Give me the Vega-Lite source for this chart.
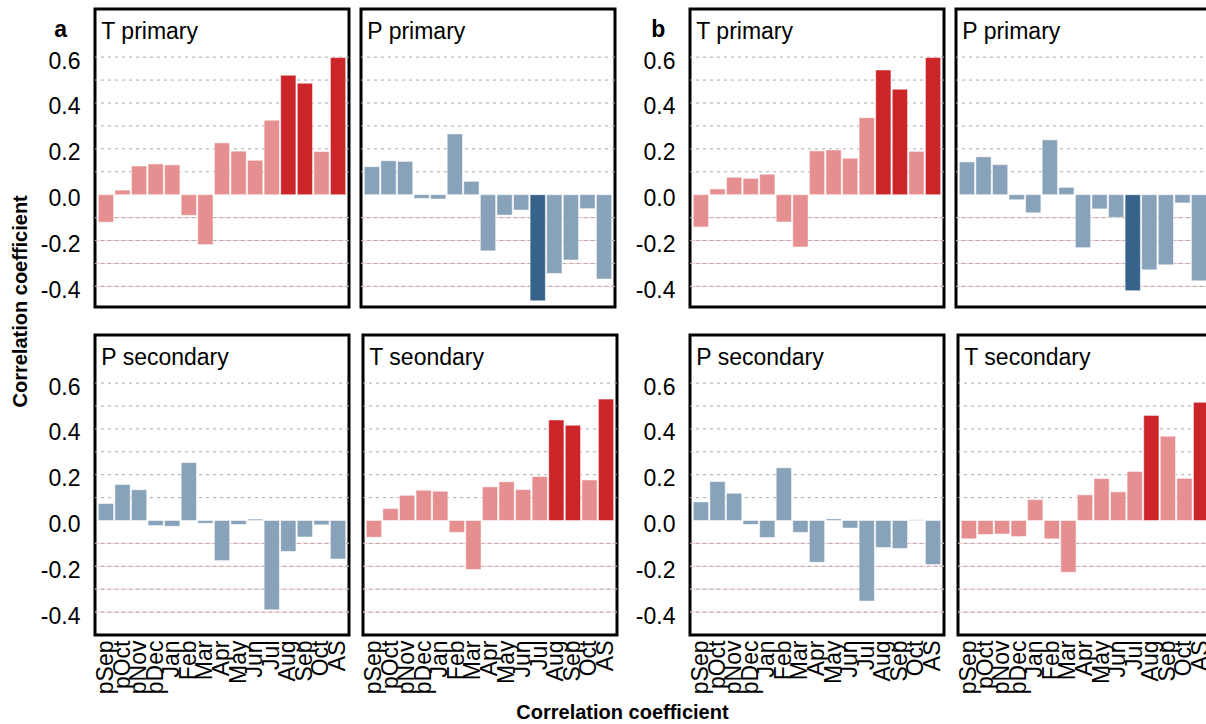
{
  "$schema": "https://vega.github.io/schema/vega-lite/v6.json",
  "autosize": {"type": "pad"},
  "padding": {"left": 10, "top": 7, "right": 0, "bottom": 0},
  "background": "#ffffff",
  "config": {
    "font": "Liberation Sans",
    "view": {"stroke": "#000000", "strokeWidth": 3},
    "axis": {"domain": false, "ticks": false, "grid": false, "labelColor": "#000000", "labelFont": "Liberation Sans", "title": null},
    "axisY": {"labelFontSize": 23, "labelPadding": 15, "labelOffset": 4},
    "axisX": {"labelAngle": 270, "labelFontSize": 23, "labelPadding": 5, "labelOverlap": false, "labelBound": false, "labelFlush": false},
    "text": {"font": "Liberation Sans", "color": "#000000"}
  },
  "datasets": {
    "grid": [
      {"v": -0.4}, {"v": -0.3}, {"v": -0.2}, {"v": -0.1},
      {"v": 0.1}, {"v": 0.2}, {"v": 0.3}, {"v": 0.4}, {"v": 0.5}, {"v": 0.6}
    ],
    "corr": [
      {"panel": "a-Tp", "month": "pSep", "r": -0.12, "sig": false},
      {"panel": "a-Tp", "month": "pOct", "r": 0.02, "sig": false},
      {"panel": "a-Tp", "month": "pNov", "r": 0.125, "sig": false},
      {"panel": "a-Tp", "month": "pDec", "r": 0.134, "sig": false},
      {"panel": "a-Tp", "month": "Jan", "r": 0.13, "sig": false},
      {"panel": "a-Tp", "month": "Feb", "r": -0.09, "sig": false},
      {"panel": "a-Tp", "month": "Mar", "r": -0.218, "sig": false},
      {"panel": "a-Tp", "month": "Apr", "r": 0.226, "sig": false},
      {"panel": "a-Tp", "month": "May", "r": 0.19, "sig": false},
      {"panel": "a-Tp", "month": "Jun", "r": 0.15, "sig": false},
      {"panel": "a-Tp", "month": "Jul", "r": 0.325, "sig": false},
      {"panel": "a-Tp", "month": "Aug", "r": 0.521, "sig": true},
      {"panel": "a-Tp", "month": "Sep", "r": 0.486, "sig": true},
      {"panel": "a-Tp", "month": "Oct", "r": 0.188, "sig": false},
      {"panel": "a-Tp", "month": "AS", "r": 0.598, "sig": true},

      {"panel": "a-Pp", "month": "pSep", "r": 0.122, "sig": false},
      {"panel": "a-Pp", "month": "pOct", "r": 0.148, "sig": false},
      {"panel": "a-Pp", "month": "pNov", "r": 0.145, "sig": false},
      {"panel": "a-Pp", "month": "pDec", "r": -0.016, "sig": false},
      {"panel": "a-Pp", "month": "Jan", "r": -0.019, "sig": false},
      {"panel": "a-Pp", "month": "Feb", "r": 0.265, "sig": false},
      {"panel": "a-Pp", "month": "Mar", "r": 0.058, "sig": false},
      {"panel": "a-Pp", "month": "Apr", "r": -0.245, "sig": false},
      {"panel": "a-Pp", "month": "May", "r": -0.089, "sig": false},
      {"panel": "a-Pp", "month": "Jun", "r": -0.067, "sig": false},
      {"panel": "a-Pp", "month": "Jul", "r": -0.463, "sig": true},
      {"panel": "a-Pp", "month": "Aug", "r": -0.344, "sig": false},
      {"panel": "a-Pp", "month": "Sep", "r": -0.285, "sig": false},
      {"panel": "a-Pp", "month": "Oct", "r": -0.061, "sig": false},
      {"panel": "a-Pp", "month": "AS", "r": -0.368, "sig": false},

      {"panel": "b-Tp", "month": "pSep", "r": -0.141, "sig": false},
      {"panel": "b-Tp", "month": "pOct", "r": 0.025, "sig": false},
      {"panel": "b-Tp", "month": "pNov", "r": 0.076, "sig": false},
      {"panel": "b-Tp", "month": "pDec", "r": 0.071, "sig": false},
      {"panel": "b-Tp", "month": "Jan", "r": 0.089, "sig": false},
      {"panel": "b-Tp", "month": "Feb", "r": -0.119, "sig": false},
      {"panel": "b-Tp", "month": "Mar", "r": -0.228, "sig": false},
      {"panel": "b-Tp", "month": "Apr", "r": 0.191, "sig": false},
      {"panel": "b-Tp", "month": "May", "r": 0.195, "sig": false},
      {"panel": "b-Tp", "month": "Jun", "r": 0.159, "sig": false},
      {"panel": "b-Tp", "month": "Jul", "r": 0.336, "sig": false},
      {"panel": "b-Tp", "month": "Aug", "r": 0.544, "sig": true},
      {"panel": "b-Tp", "month": "Sep", "r": 0.46, "sig": true},
      {"panel": "b-Tp", "month": "Oct", "r": 0.189, "sig": false},
      {"panel": "b-Tp", "month": "AS", "r": 0.598, "sig": true},

      {"panel": "b-Pp", "month": "pSep", "r": 0.143, "sig": false},
      {"panel": "b-Pp", "month": "pOct", "r": 0.165, "sig": false},
      {"panel": "b-Pp", "month": "pNov", "r": 0.131, "sig": false},
      {"panel": "b-Pp", "month": "pDec", "r": -0.022, "sig": false},
      {"panel": "b-Pp", "month": "Jan", "r": -0.079, "sig": false},
      {"panel": "b-Pp", "month": "Feb", "r": 0.239, "sig": false},
      {"panel": "b-Pp", "month": "Mar", "r": 0.032, "sig": false},
      {"panel": "b-Pp", "month": "Apr", "r": -0.231, "sig": false},
      {"panel": "b-Pp", "month": "May", "r": -0.062, "sig": false},
      {"panel": "b-Pp", "month": "Jun", "r": -0.099, "sig": false},
      {"panel": "b-Pp", "month": "Jul", "r": -0.419, "sig": true},
      {"panel": "b-Pp", "month": "Aug", "r": -0.328, "sig": false},
      {"panel": "b-Pp", "month": "Sep", "r": -0.306, "sig": false},
      {"panel": "b-Pp", "month": "Oct", "r": -0.036, "sig": false},
      {"panel": "b-Pp", "month": "AS", "r": -0.376, "sig": false},

      {"panel": "a-Ps", "month": "pSep", "r": 0.074, "sig": false},
      {"panel": "a-Ps", "month": "pOct", "r": 0.157, "sig": false},
      {"panel": "a-Ps", "month": "pNov", "r": 0.134, "sig": false},
      {"panel": "a-Ps", "month": "pDec", "r": -0.022, "sig": false},
      {"panel": "a-Ps", "month": "Jan", "r": -0.025, "sig": false},
      {"panel": "a-Ps", "month": "Feb", "r": 0.253, "sig": false},
      {"panel": "a-Ps", "month": "Mar", "r": -0.012, "sig": false},
      {"panel": "a-Ps", "month": "Apr", "r": -0.175, "sig": false},
      {"panel": "a-Ps", "month": "May", "r": -0.017, "sig": false},
      {"panel": "a-Ps", "month": "Jun", "r": 0.006, "sig": false},
      {"panel": "a-Ps", "month": "Jul", "r": -0.39, "sig": false},
      {"panel": "a-Ps", "month": "Aug", "r": -0.135, "sig": false},
      {"panel": "a-Ps", "month": "Sep", "r": -0.072, "sig": false},
      {"panel": "a-Ps", "month": "Oct", "r": -0.019, "sig": false},
      {"panel": "a-Ps", "month": "AS", "r": -0.168, "sig": false},

      {"panel": "a-Ts", "month": "pSep", "r": -0.073, "sig": false},
      {"panel": "a-Ts", "month": "pOct", "r": 0.052, "sig": false},
      {"panel": "a-Ts", "month": "pNov", "r": 0.11, "sig": false},
      {"panel": "a-Ts", "month": "pDec", "r": 0.132, "sig": false},
      {"panel": "a-Ts", "month": "Jan", "r": 0.128, "sig": false},
      {"panel": "a-Ts", "month": "Feb", "r": -0.052, "sig": false},
      {"panel": "a-Ts", "month": "Mar", "r": -0.214, "sig": false},
      {"panel": "a-Ts", "month": "Apr", "r": 0.147, "sig": false},
      {"panel": "a-Ts", "month": "May", "r": 0.169, "sig": false},
      {"panel": "a-Ts", "month": "Jun", "r": 0.135, "sig": false},
      {"panel": "a-Ts", "month": "Jul", "r": 0.192, "sig": false},
      {"panel": "a-Ts", "month": "Aug", "r": 0.439, "sig": true},
      {"panel": "a-Ts", "month": "Sep", "r": 0.416, "sig": true},
      {"panel": "a-Ts", "month": "Oct", "r": 0.177, "sig": false},
      {"panel": "a-Ts", "month": "AS", "r": 0.53, "sig": true},

      {"panel": "b-Ps", "month": "pSep", "r": 0.081, "sig": false},
      {"panel": "b-Ps", "month": "pOct", "r": 0.17, "sig": false},
      {"panel": "b-Ps", "month": "pNov", "r": 0.119, "sig": false},
      {"panel": "b-Ps", "month": "pDec", "r": -0.017, "sig": false},
      {"panel": "b-Ps", "month": "Jan", "r": -0.074, "sig": false},
      {"panel": "b-Ps", "month": "Feb", "r": 0.23, "sig": false},
      {"panel": "b-Ps", "month": "Mar", "r": -0.052, "sig": false},
      {"panel": "b-Ps", "month": "Apr", "r": -0.182, "sig": false},
      {"panel": "b-Ps", "month": "May", "r": 0.007, "sig": false},
      {"panel": "b-Ps", "month": "Jun", "r": -0.033, "sig": false},
      {"panel": "b-Ps", "month": "Jul", "r": -0.352, "sig": false},
      {"panel": "b-Ps", "month": "Aug", "r": -0.118, "sig": false},
      {"panel": "b-Ps", "month": "Sep", "r": -0.122, "sig": false},
      {"panel": "b-Ps", "month": "Oct", "r": 0.003, "sig": false},
      {"panel": "b-Ps", "month": "AS", "r": -0.192, "sig": false},

      {"panel": "b-Ts", "month": "pSep", "r": -0.08, "sig": false},
      {"panel": "b-Ts", "month": "pOct", "r": -0.061, "sig": false},
      {"panel": "b-Ts", "month": "pNov", "r": -0.059, "sig": false},
      {"panel": "b-Ts", "month": "pDec", "r": -0.07, "sig": false},
      {"panel": "b-Ts", "month": "Jan", "r": 0.091, "sig": false},
      {"panel": "b-Ts", "month": "Feb", "r": -0.08, "sig": false},
      {"panel": "b-Ts", "month": "Mar", "r": -0.226, "sig": false},
      {"panel": "b-Ts", "month": "Apr", "r": 0.112, "sig": false},
      {"panel": "b-Ts", "month": "May", "r": 0.183, "sig": false},
      {"panel": "b-Ts", "month": "Jun", "r": 0.125, "sig": false},
      {"panel": "b-Ts", "month": "Jul", "r": 0.214, "sig": false},
      {"panel": "b-Ts", "month": "Aug", "r": 0.459, "sig": true},
      {"panel": "b-Ts", "month": "Sep", "r": 0.368, "sig": false},
      {"panel": "b-Ts", "month": "Oct", "r": 0.184, "sig": false},
      {"panel": "b-Ts", "month": "AS", "r": 0.516, "sig": true}
    ]
  },
  "title": {"text": "Correlation coefficient", "orient": "bottom", "anchor": "middle", "fontSize": 20, "fontWeight": "bold", "color": "#000000", "offset": 8, "dx": 10},
  "spacing": 13,
  "hconcat": [
    {
      "title": {"text": "Correlation coefficient", "orient": "left", "anchor": "middle", "fontSize": 20, "fontWeight": "bold", "color": "#000000", "offset": 8, "dx": 50},
      "spacing": 24,
      "vconcat": [
        {
          "spacing": 8,
          "hconcat": [
            {
              "width": 254, "height": 298,
              "layer": [
                {"data": {"name": "grid"}, "transform": [{"filter": "datum.v < 0"}], "mark": {"type": "rule", "color": "#f6caca", "strokeWidth": 1},
                 "encoding": {"y": {"field": "v", "type": "quantitative", "scale": {"domain": [-0.49, 0.81], "nice": false}, "axis": {"values": [-0.4, -0.2, 0, 0.2, 0.4, 0.6], "labelExpr": "datum.value < 0 ? '-' + format(-datum.value, '.1f') : format(datum.value, '.1f')"}}}},
                {"data": {"name": "grid"}, "mark": {"type": "rule", "color": "#a9a9a9", "strokeWidth": 1, "strokeDash": [3, 4]},
                 "encoding": {"y": {"field": "v", "type": "quantitative", "scale": {"domain": [-0.49, 0.81], "nice": false}, "axis": {"values": [-0.4, -0.2, 0, 0.2, 0.4, 0.6], "labelExpr": "datum.value < 0 ? '-' + format(-datum.value, '.1f') : format(datum.value, '.1f')"}}}},
                {"data": {"name": "corr"}, "transform": [{"filter": "datum.panel == 'a-Tp'"}], "mark": {"type": "bar", "stroke": "#ffffff", "strokeWidth": 1, "strokeOpacity": 0.5},
                 "encoding": {
                   "x": {"field": "month", "type": "nominal", "scale": {"domain": ["pSep","pOct","pNov","pDec","Jan","Feb","Mar","Apr","May","Jun","Jul","Aug","Sep","Oct","AS"], "paddingInner": 0.08, "paddingOuter": 0.2}, "axis": null},
                   "y": {"field": "r", "type": "quantitative", "scale": {"domain": [-0.49, 0.81], "nice": false}, "axis": {"values": [-0.4, -0.2, 0, 0.2, 0.4, 0.6], "labelExpr": "datum.value < 0 ? '-' + format(-datum.value, '.1f') : format(datum.value, '.1f')"}},
                   "fill": {"condition": {"test": "datum.sig", "value": "#cc2529"}, "value": "#e68f91"}}},
                {"data": {"name": "corr"}, "transform": [{"filter": "datum.panel == 'a-Tp' && datum.month == 'pSep'"}], "mark": {"type": "text", "align": "left", "baseline": "alphabetic", "fontSize": 23, "dx": 3},
                 "encoding": {"x": {"field": "month", "type": "nominal", "bandPosition": 0, "scale": {"domain": ["pSep","pOct","pNov","pDec","Jan","Feb","Mar","Apr","May","Jun","Jul","Aug","Sep","Oct","AS"], "paddingInner": 0.08, "paddingOuter": 0.2}, "axis": null}, "y": {"datum": 0.678, "type": "quantitative", "scale": {"domain": [-0.49, 0.81], "nice": false}, "axis": {"values": [-0.4, -0.2, 0, 0.2, 0.4, 0.6], "labelExpr": "datum.value < 0 ? '-' + format(-datum.value, '.1f') : format(datum.value, '.1f')"}}, "text": {"value": "T primary"}}},
                {"data": {"name": "corr"}, "transform": [{"filter": "datum.panel == 'a-Tp' && datum.month == 'pSep'"}], "mark": {"type": "text", "align": "left", "baseline": "alphabetic", "fontSize": 23, "fontWeight": "bold", "dx": -44},
                 "encoding": {"x": {"field": "month", "type": "nominal", "bandPosition": 0, "scale": {"domain": ["pSep","pOct","pNov","pDec","Jan","Feb","Mar","Apr","May","Jun","Jul","Aug","Sep","Oct","AS"], "paddingInner": 0.08, "paddingOuter": 0.2}, "axis": null}, "y": {"datum": 0.69, "type": "quantitative", "scale": {"domain": [-0.49, 0.81], "nice": false}, "axis": {"values": [-0.4, -0.2, 0, 0.2, 0.4, 0.6], "labelExpr": "datum.value < 0 ? '-' + format(-datum.value, '.1f') : format(datum.value, '.1f')"}}, "text": {"value": "a"}}}
              ]
            },
            {
              "width": 254, "height": 298,
              "layer": [
                {"data": {"name": "grid"}, "transform": [{"filter": "datum.v < 0"}], "mark": {"type": "rule", "color": "#f6caca", "strokeWidth": 1}, "encoding": {"y": {"field": "v", "type": "quantitative", "scale": {"domain": [-0.49, 0.81], "nice": false}, "axis": null}}},
                {"data": {"name": "grid"}, "mark": {"type": "rule", "color": "#a9a9a9", "strokeWidth": 1, "strokeDash": [3, 4]}, "encoding": {"y": {"field": "v", "type": "quantitative", "scale": {"domain": [-0.49, 0.81], "nice": false}, "axis": null}}},
                {"data": {"name": "corr"}, "transform": [{"filter": "datum.panel == 'a-Pp'"}], "mark": {"type": "bar", "stroke": "#ffffff", "strokeWidth": 1, "strokeOpacity": 0.5},
                 "encoding": {
                   "x": {"field": "month", "type": "nominal", "scale": {"domain": ["pSep","pOct","pNov","pDec","Jan","Feb","Mar","Apr","May","Jun","Jul","Aug","Sep","Oct","AS"], "paddingInner": 0.08, "paddingOuter": 0.2}, "axis": null},
                   "y": {"field": "r", "type": "quantitative", "scale": {"domain": [-0.49, 0.81], "nice": false}, "axis": null},
                   "fill": {"condition": {"test": "datum.sig", "value": "#37638a"}, "value": "#87a2b9"}}},
                {"data": {"name": "corr"}, "transform": [{"filter": "datum.panel == 'a-Pp' && datum.month == 'pSep'"}], "mark": {"type": "text", "align": "left", "baseline": "alphabetic", "fontSize": 23, "dx": 3},
                 "encoding": {"x": {"field": "month", "type": "nominal", "bandPosition": 0, "scale": {"domain": ["pSep","pOct","pNov","pDec","Jan","Feb","Mar","Apr","May","Jun","Jul","Aug","Sep","Oct","AS"], "paddingInner": 0.08, "paddingOuter": 0.2}, "axis": null}, "y": {"datum": 0.678, "type": "quantitative", "scale": {"domain": [-0.49, 0.81], "nice": false}, "axis": null}, "text": {"value": "P primary"}}}
              ]
            }
          ]
        },
        {
          "spacing": 8,
          "hconcat": [
            {
              "width": 254, "height": 300,
              "layer": [
                {"data": {"name": "grid"}, "transform": [{"filter": "datum.v < 0"}], "mark": {"type": "rule", "color": "#f6caca", "strokeWidth": 1},
                 "encoding": {"y": {"field": "v", "type": "quantitative", "scale": {"domain": [-0.5, 0.81], "nice": false}, "axis": {"values": [-0.4, -0.2, 0, 0.2, 0.4, 0.6], "labelExpr": "datum.value < 0 ? '-' + format(-datum.value, '.1f') : format(datum.value, '.1f')"}}}},
                {"data": {"name": "grid"}, "mark": {"type": "rule", "color": "#a9a9a9", "strokeWidth": 1, "strokeDash": [3, 4]},
                 "encoding": {"y": {"field": "v", "type": "quantitative", "scale": {"domain": [-0.5, 0.81], "nice": false}, "axis": {"values": [-0.4, -0.2, 0, 0.2, 0.4, 0.6], "labelExpr": "datum.value < 0 ? '-' + format(-datum.value, '.1f') : format(datum.value, '.1f')"}}}},
                {"data": {"name": "corr"}, "transform": [{"filter": "datum.panel == 'a-Ps'"}], "mark": {"type": "bar", "stroke": "#ffffff", "strokeWidth": 1, "strokeOpacity": 0.5},
                 "encoding": {
                   "x": {"field": "month", "type": "nominal", "scale": {"domain": ["pSep","pOct","pNov","pDec","Jan","Feb","Mar","Apr","May","Jun","Jul","Aug","Sep","Oct","AS"], "paddingInner": 0.08, "paddingOuter": 0.2}, "axis": {}},
                   "y": {"field": "r", "type": "quantitative", "scale": {"domain": [-0.5, 0.81], "nice": false}, "axis": {"values": [-0.4, -0.2, 0, 0.2, 0.4, 0.6], "labelExpr": "datum.value < 0 ? '-' + format(-datum.value, '.1f') : format(datum.value, '.1f')"}},
                   "fill": {"condition": {"test": "datum.sig", "value": "#37638a"}, "value": "#87a2b9"}}},
                {"data": {"name": "corr"}, "transform": [{"filter": "datum.panel == 'a-Ps' && datum.month == 'pSep'"}], "mark": {"type": "text", "align": "left", "baseline": "alphabetic", "fontSize": 23, "dx": 3},
                 "encoding": {"x": {"field": "month", "type": "nominal", "bandPosition": 0, "scale": {"domain": ["pSep","pOct","pNov","pDec","Jan","Feb","Mar","Apr","May","Jun","Jul","Aug","Sep","Oct","AS"], "paddingInner": 0.08, "paddingOuter": 0.2}, "axis": {}}, "y": {"datum": 0.68, "type": "quantitative", "scale": {"domain": [-0.5, 0.81], "nice": false}, "axis": {"values": [-0.4, -0.2, 0, 0.2, 0.4, 0.6], "labelExpr": "datum.value < 0 ? '-' + format(-datum.value, '.1f') : format(datum.value, '.1f')"}}, "text": {"value": "P secondary"}}}
              ]
            },
            {
              "width": 254, "height": 300,
              "layer": [
                {"data": {"name": "grid"}, "transform": [{"filter": "datum.v < 0"}], "mark": {"type": "rule", "color": "#f6caca", "strokeWidth": 1}, "encoding": {"y": {"field": "v", "type": "quantitative", "scale": {"domain": [-0.5, 0.81], "nice": false}, "axis": null}}},
                {"data": {"name": "grid"}, "mark": {"type": "rule", "color": "#a9a9a9", "strokeWidth": 1, "strokeDash": [3, 4]}, "encoding": {"y": {"field": "v", "type": "quantitative", "scale": {"domain": [-0.5, 0.81], "nice": false}, "axis": null}}},
                {"data": {"name": "corr"}, "transform": [{"filter": "datum.panel == 'a-Ts'"}], "mark": {"type": "bar", "stroke": "#ffffff", "strokeWidth": 1, "strokeOpacity": 0.5},
                 "encoding": {
                   "x": {"field": "month", "type": "nominal", "scale": {"domain": ["pSep","pOct","pNov","pDec","Jan","Feb","Mar","Apr","May","Jun","Jul","Aug","Sep","Oct","AS"], "paddingInner": 0.08, "paddingOuter": 0.2}, "axis": {}},
                   "y": {"field": "r", "type": "quantitative", "scale": {"domain": [-0.5, 0.81], "nice": false}, "axis": null},
                   "fill": {"condition": {"test": "datum.sig", "value": "#cc2529"}, "value": "#e68f91"}}},
                {"data": {"name": "corr"}, "transform": [{"filter": "datum.panel == 'a-Ts' && datum.month == 'pSep'"}], "mark": {"type": "text", "align": "left", "baseline": "alphabetic", "fontSize": 23, "dx": 3},
                 "encoding": {"x": {"field": "month", "type": "nominal", "bandPosition": 0, "scale": {"domain": ["pSep","pOct","pNov","pDec","Jan","Feb","Mar","Apr","May","Jun","Jul","Aug","Sep","Oct","AS"], "paddingInner": 0.08, "paddingOuter": 0.2}, "axis": {}}, "y": {"datum": 0.68, "type": "quantitative", "scale": {"domain": [-0.5, 0.81], "nice": false}, "axis": null}, "text": {"value": "T seondary"}}}
              ]
            }
          ]
        }
      ]
    },
    {
      "spacing": 24,
      "vconcat": [
        {
          "spacing": 8,
          "hconcat": [
            {
              "width": 254, "height": 298,
              "layer": [
                {"data": {"name": "grid"}, "transform": [{"filter": "datum.v < 0"}], "mark": {"type": "rule", "color": "#f6caca", "strokeWidth": 1},
                 "encoding": {"y": {"field": "v", "type": "quantitative", "scale": {"domain": [-0.49, 0.81], "nice": false}, "axis": {"values": [-0.4, -0.2, 0, 0.2, 0.4, 0.6], "labelExpr": "datum.value < 0 ? '-' + format(-datum.value, '.1f') : format(datum.value, '.1f')"}}}},
                {"data": {"name": "grid"}, "mark": {"type": "rule", "color": "#a9a9a9", "strokeWidth": 1, "strokeDash": [3, 4]},
                 "encoding": {"y": {"field": "v", "type": "quantitative", "scale": {"domain": [-0.49, 0.81], "nice": false}, "axis": {"values": [-0.4, -0.2, 0, 0.2, 0.4, 0.6], "labelExpr": "datum.value < 0 ? '-' + format(-datum.value, '.1f') : format(datum.value, '.1f')"}}}},
                {"data": {"name": "corr"}, "transform": [{"filter": "datum.panel == 'b-Tp'"}], "mark": {"type": "bar", "stroke": "#ffffff", "strokeWidth": 1, "strokeOpacity": 0.5},
                 "encoding": {
                   "x": {"field": "month", "type": "nominal", "scale": {"domain": ["pSep","pOct","pNov","pDec","Jan","Feb","Mar","Apr","May","Jun","Jul","Aug","Sep","Oct","AS"], "paddingInner": 0.08, "paddingOuter": 0.2}, "axis": null},
                   "y": {"field": "r", "type": "quantitative", "scale": {"domain": [-0.49, 0.81], "nice": false}, "axis": {"values": [-0.4, -0.2, 0, 0.2, 0.4, 0.6], "labelExpr": "datum.value < 0 ? '-' + format(-datum.value, '.1f') : format(datum.value, '.1f')"}},
                   "fill": {"condition": {"test": "datum.sig", "value": "#cc2529"}, "value": "#e68f91"}}},
                {"data": {"name": "corr"}, "transform": [{"filter": "datum.panel == 'b-Tp' && datum.month == 'pSep'"}], "mark": {"type": "text", "align": "left", "baseline": "alphabetic", "fontSize": 23, "dx": 3},
                 "encoding": {"x": {"field": "month", "type": "nominal", "bandPosition": 0, "scale": {"domain": ["pSep","pOct","pNov","pDec","Jan","Feb","Mar","Apr","May","Jun","Jul","Aug","Sep","Oct","AS"], "paddingInner": 0.08, "paddingOuter": 0.2}, "axis": null}, "y": {"datum": 0.678, "type": "quantitative", "scale": {"domain": [-0.49, 0.81], "nice": false}, "axis": {"values": [-0.4, -0.2, 0, 0.2, 0.4, 0.6], "labelExpr": "datum.value < 0 ? '-' + format(-datum.value, '.1f') : format(datum.value, '.1f')"}}, "text": {"value": "T primary"}}},
                {"data": {"name": "corr"}, "transform": [{"filter": "datum.panel == 'b-Tp' && datum.month == 'pSep'"}], "mark": {"type": "text", "align": "left", "baseline": "alphabetic", "fontSize": 23, "fontWeight": "bold", "dx": -42},
                 "encoding": {"x": {"field": "month", "type": "nominal", "bandPosition": 0, "scale": {"domain": ["pSep","pOct","pNov","pDec","Jan","Feb","Mar","Apr","May","Jun","Jul","Aug","Sep","Oct","AS"], "paddingInner": 0.08, "paddingOuter": 0.2}, "axis": null}, "y": {"datum": 0.69, "type": "quantitative", "scale": {"domain": [-0.49, 0.81], "nice": false}, "axis": {"values": [-0.4, -0.2, 0, 0.2, 0.4, 0.6], "labelExpr": "datum.value < 0 ? '-' + format(-datum.value, '.1f') : format(datum.value, '.1f')"}}, "text": {"value": "b"}}}
              ]
            },
            {
              "width": 254, "height": 298,
              "layer": [
                {"data": {"name": "grid"}, "transform": [{"filter": "datum.v < 0"}], "mark": {"type": "rule", "color": "#f6caca", "strokeWidth": 1}, "encoding": {"y": {"field": "v", "type": "quantitative", "scale": {"domain": [-0.49, 0.81], "nice": false}, "axis": null}}},
                {"data": {"name": "grid"}, "mark": {"type": "rule", "color": "#a9a9a9", "strokeWidth": 1, "strokeDash": [3, 4]}, "encoding": {"y": {"field": "v", "type": "quantitative", "scale": {"domain": [-0.49, 0.81], "nice": false}, "axis": null}}},
                {"data": {"name": "corr"}, "transform": [{"filter": "datum.panel == 'b-Pp'"}], "mark": {"type": "bar", "stroke": "#ffffff", "strokeWidth": 1, "strokeOpacity": 0.5},
                 "encoding": {
                   "x": {"field": "month", "type": "nominal", "scale": {"domain": ["pSep","pOct","pNov","pDec","Jan","Feb","Mar","Apr","May","Jun","Jul","Aug","Sep","Oct","AS"], "paddingInner": 0.08, "paddingOuter": 0.2}, "axis": null},
                   "y": {"field": "r", "type": "quantitative", "scale": {"domain": [-0.49, 0.81], "nice": false}, "axis": null},
                   "fill": {"condition": {"test": "datum.sig", "value": "#37638a"}, "value": "#87a2b9"}}},
                {"data": {"name": "corr"}, "transform": [{"filter": "datum.panel == 'b-Pp' && datum.month == 'pSep'"}], "mark": {"type": "text", "align": "left", "baseline": "alphabetic", "fontSize": 23, "dx": 3},
                 "encoding": {"x": {"field": "month", "type": "nominal", "bandPosition": 0, "scale": {"domain": ["pSep","pOct","pNov","pDec","Jan","Feb","Mar","Apr","May","Jun","Jul","Aug","Sep","Oct","AS"], "paddingInner": 0.08, "paddingOuter": 0.2}, "axis": null}, "y": {"datum": 0.678, "type": "quantitative", "scale": {"domain": [-0.49, 0.81], "nice": false}, "axis": null}, "text": {"value": "P primary"}}}
              ]
            }
          ]
        },
        {
          "spacing": 8,
          "hconcat": [
            {
              "width": 254, "height": 300,
              "layer": [
                {"data": {"name": "grid"}, "transform": [{"filter": "datum.v < 0"}], "mark": {"type": "rule", "color": "#f6caca", "strokeWidth": 1},
                 "encoding": {"y": {"field": "v", "type": "quantitative", "scale": {"domain": [-0.5, 0.81], "nice": false}, "axis": {"values": [-0.4, -0.2, 0, 0.2, 0.4, 0.6], "labelExpr": "datum.value < 0 ? '-' + format(-datum.value, '.1f') : format(datum.value, '.1f')"}}}},
                {"data": {"name": "grid"}, "mark": {"type": "rule", "color": "#a9a9a9", "strokeWidth": 1, "strokeDash": [3, 4]},
                 "encoding": {"y": {"field": "v", "type": "quantitative", "scale": {"domain": [-0.5, 0.81], "nice": false}, "axis": {"values": [-0.4, -0.2, 0, 0.2, 0.4, 0.6], "labelExpr": "datum.value < 0 ? '-' + format(-datum.value, '.1f') : format(datum.value, '.1f')"}}}},
                {"data": {"name": "corr"}, "transform": [{"filter": "datum.panel == 'b-Ps'"}], "mark": {"type": "bar", "stroke": "#ffffff", "strokeWidth": 1, "strokeOpacity": 0.5},
                 "encoding": {
                   "x": {"field": "month", "type": "nominal", "scale": {"domain": ["pSep","pOct","pNov","pDec","Jan","Feb","Mar","Apr","May","Jun","Jul","Aug","Sep","Oct","AS"], "paddingInner": 0.08, "paddingOuter": 0.2}, "axis": {}},
                   "y": {"field": "r", "type": "quantitative", "scale": {"domain": [-0.5, 0.81], "nice": false}, "axis": {"values": [-0.4, -0.2, 0, 0.2, 0.4, 0.6], "labelExpr": "datum.value < 0 ? '-' + format(-datum.value, '.1f') : format(datum.value, '.1f')"}},
                   "fill": {"condition": {"test": "datum.sig", "value": "#37638a"}, "value": "#87a2b9"}}},
                {"data": {"name": "corr"}, "transform": [{"filter": "datum.panel == 'b-Ps' && datum.month == 'pSep'"}], "mark": {"type": "text", "align": "left", "baseline": "alphabetic", "fontSize": 23, "dx": 3},
                 "encoding": {"x": {"field": "month", "type": "nominal", "bandPosition": 0, "scale": {"domain": ["pSep","pOct","pNov","pDec","Jan","Feb","Mar","Apr","May","Jun","Jul","Aug","Sep","Oct","AS"], "paddingInner": 0.08, "paddingOuter": 0.2}, "axis": {}}, "y": {"datum": 0.68, "type": "quantitative", "scale": {"domain": [-0.5, 0.81], "nice": false}, "axis": {"values": [-0.4, -0.2, 0, 0.2, 0.4, 0.6], "labelExpr": "datum.value < 0 ? '-' + format(-datum.value, '.1f') : format(datum.value, '.1f')"}}, "text": {"value": "P secondary"}}}
              ]
            },
            {
              "width": 254, "height": 300,
              "layer": [
                {"data": {"name": "grid"}, "transform": [{"filter": "datum.v < 0"}], "mark": {"type": "rule", "color": "#f6caca", "strokeWidth": 1}, "encoding": {"y": {"field": "v", "type": "quantitative", "scale": {"domain": [-0.5, 0.81], "nice": false}, "axis": null}}},
                {"data": {"name": "grid"}, "mark": {"type": "rule", "color": "#a9a9a9", "strokeWidth": 1, "strokeDash": [3, 4]}, "encoding": {"y": {"field": "v", "type": "quantitative", "scale": {"domain": [-0.5, 0.81], "nice": false}, "axis": null}}},
                {"data": {"name": "corr"}, "transform": [{"filter": "datum.panel == 'b-Ts'"}], "mark": {"type": "bar", "stroke": "#ffffff", "strokeWidth": 1, "strokeOpacity": 0.5},
                 "encoding": {
                   "x": {"field": "month", "type": "nominal", "scale": {"domain": ["pSep","pOct","pNov","pDec","Jan","Feb","Mar","Apr","May","Jun","Jul","Aug","Sep","Oct","AS"], "paddingInner": 0.08, "paddingOuter": 0.2}, "axis": {}},
                   "y": {"field": "r", "type": "quantitative", "scale": {"domain": [-0.5, 0.81], "nice": false}, "axis": null},
                   "fill": {"condition": {"test": "datum.sig", "value": "#cc2529"}, "value": "#e68f91"}}},
                {"data": {"name": "corr"}, "transform": [{"filter": "datum.panel == 'b-Ts' && datum.month == 'pSep'"}], "mark": {"type": "text", "align": "left", "baseline": "alphabetic", "fontSize": 23, "dx": 3},
                 "encoding": {"x": {"field": "month", "type": "nominal", "bandPosition": 0, "scale": {"domain": ["pSep","pOct","pNov","pDec","Jan","Feb","Mar","Apr","May","Jun","Jul","Aug","Sep","Oct","AS"], "paddingInner": 0.08, "paddingOuter": 0.2}, "axis": {}}, "y": {"datum": 0.68, "type": "quantitative", "scale": {"domain": [-0.5, 0.81], "nice": false}, "axis": null}, "text": {"value": "T secondary"}}}
              ]
            }
          ]
        }
      ]
    }
  ]
}
